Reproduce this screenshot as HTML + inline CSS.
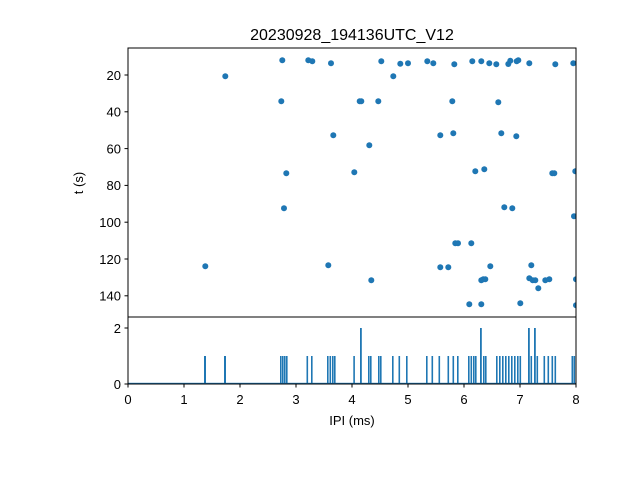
<!DOCTYPE html><html><head><style>body{margin:0;background:#fff}svg{display:block;font-family:"Liberation Sans","DejaVu Sans",sans-serif}</style></head><body>
<svg width="640" height="480" xmlns="http://www.w3.org/2000/svg">
<rect width="640" height="480" fill="#fff"/>
<text x="352" y="40" font-size="16" text-anchor="middle">20230928_194136UTC_V12</text>
<g fill="#1f77b4">
<script>/*none*/</script>
</g>
<g id="dots" fill="#1f77b4">
<circle cx="282.3" cy="60.3" r="3"/><circle cx="308.3" cy="60.3" r="3"/><circle cx="312.3" cy="61.3" r="3"/><circle cx="331" cy="63.3" r="3"/><circle cx="225.3" cy="76.3" r="3"/><circle cx="281.3" cy="101.3" r="3"/><circle cx="359.7" cy="101.3" r="3"/><circle cx="333.3" cy="135.3" r="3"/><circle cx="286.3" cy="173.3" r="3"/><circle cx="354.3" cy="172.3" r="3"/><circle cx="284" cy="208.3" r="3"/><circle cx="205.3" cy="266.3" r="3"/><circle cx="328.3" cy="265.3" r="3"/>
<circle cx="381.3" cy="61.3" r="3"/><circle cx="400.3" cy="63.7" r="3"/><circle cx="408" cy="63.3" r="3"/><circle cx="427.3" cy="61.3" r="3"/><circle cx="433.3" cy="63.3" r="3"/><circle cx="454.3" cy="64.3" r="3"/><circle cx="472.3" cy="61.3" r="3"/><circle cx="481.3" cy="61.3" r="3"/><circle cx="489.3" cy="63.3" r="3"/><circle cx="496.3" cy="64.3" r="3"/><circle cx="508.3" cy="64" r="3"/><circle cx="510.3" cy="60.7" r="3"/><circle cx="516.7" cy="61.3" r="3"/><circle cx="518.3" cy="60.3" r="3"/><circle cx="529.3" cy="63.3" r="3"/><circle cx="555.3" cy="64.3" r="3"/><circle cx="573.3" cy="63.3" r="3"/><circle cx="393.3" cy="76.3" r="3"/>
<circle cx="361.3" cy="101.3" r="3"/><circle cx="378.3" cy="101.3" r="3"/><circle cx="452.3" cy="101.3" r="3"/><circle cx="498.3" cy="102.3" r="3"/>
<circle cx="440.3" cy="135.3" r="3"/><circle cx="453.3" cy="133.3" r="3"/><circle cx="501.3" cy="133.3" r="3"/><circle cx="516.3" cy="136.3" r="3"/><circle cx="369.3" cy="145.3" r="3"/>
<circle cx="475.3" cy="171.3" r="3"/><circle cx="484.3" cy="169.3" r="3"/><circle cx="552.3" cy="173.3" r="3"/><circle cx="554.3" cy="173.3" r="3"/><circle cx="575.3" cy="171.3" r="3"/>
<circle cx="504.3" cy="207.3" r="3"/><circle cx="512.3" cy="208.3" r="3"/><circle cx="574" cy="216.3" r="3"/>
<circle cx="455.3" cy="243.3" r="3"/><circle cx="458" cy="243.3" r="3"/><circle cx="471.3" cy="243.3" r="3"/>
<circle cx="440.3" cy="267.3" r="3"/><circle cx="448.3" cy="267.3" r="3"/><circle cx="490.3" cy="266.3" r="3"/><circle cx="531.3" cy="265.3" r="3"/>
<circle cx="371.3" cy="280.3" r="3"/><circle cx="481.3" cy="280.3" r="3"/><circle cx="483.3" cy="279.3" r="3"/><circle cx="485.3" cy="279.3" r="3"/><circle cx="529.3" cy="278.3" r="3"/><circle cx="532.7" cy="280.3" r="3"/><circle cx="535.3" cy="280.3" r="3"/><circle cx="538.3" cy="288.3" r="3"/><circle cx="545.3" cy="280.3" r="3"/><circle cx="549.3" cy="279.3" r="3"/><circle cx="576" cy="279.3" r="3"/>
<circle cx="469.3" cy="304.3" r="3"/><circle cx="481.3" cy="304.3" r="3"/><circle cx="520.3" cy="303.3" r="3"/><circle cx="576" cy="305.3" r="3"/>
</g>
<rect x="576.5" y="40" width="10" height="280" fill="#fff"/>
<rect x="128" y="48" width="448" height="269" fill="none" stroke="#000" stroke-width="1"/>
<g stroke="#000" stroke-width="1">
<line x1="124.5" x2="128" y1="75" y2="75"/><line x1="124.5" x2="128" y1="111.8" y2="111.8"/><line x1="124.5" x2="128" y1="148.6" y2="148.6"/><line x1="124.5" x2="128" y1="185.4" y2="185.4"/><line x1="124.5" x2="128" y1="222.2" y2="222.2"/><line x1="124.5" x2="128" y1="259" y2="259"/><line x1="124.5" x2="128" y1="295.8" y2="295.8"/>
</g>
<g font-size="13" text-anchor="end">
<text x="121" y="80">20</text><text x="121" y="116.5">40</text><text x="121" y="153.5">60</text><text x="121" y="190">80</text><text x="121" y="227">100</text><text x="121" y="264">120</text><text x="121" y="300.5">140</text>
</g>
<text transform="translate(83,183) rotate(-90)" font-size="13" text-anchor="middle">t (s)</text>
<g fill="#1f77b4">
<rect x="204" y="356" width="2" height="28"/><rect x="224" y="356" width="2" height="28"/>
<rect x="280" y="356" width="1.6" height="28"/><rect x="282" y="356" width="1.6" height="28"/><rect x="284" y="356" width="1.6" height="28"/><rect x="286" y="356" width="1.6" height="28"/>
<rect x="306.5" y="356" width="1.6" height="28"/><rect x="311" y="356" width="1.6" height="28"/>
<rect x="327" y="356" width="1.6" height="28"/><rect x="329.5" y="356" width="1.6" height="28"/><rect x="332" y="356" width="1.6" height="28"/><rect x="334" y="356" width="1.6" height="28"/>
<rect x="353.3" y="356" width="1.6" height="28"/><rect x="360" y="328" width="1.8" height="56"/>
<rect x="368" y="356" width="1.6" height="28"/><rect x="370" y="356" width="1.6" height="28"/>
<rect x="378" y="356" width="1.6" height="28"/><rect x="380" y="356" width="1.6" height="28"/>
<rect x="392" y="356" width="1.6" height="28"/><rect x="398.5" y="356" width="1.6" height="28"/><rect x="406" y="356" width="1.6" height="28"/>
<rect x="426" y="356" width="1.6" height="28"/><rect x="431.5" y="356" width="1.6" height="28"/><rect x="438.5" y="356" width="1.6" height="28"/>
<rect x="447.5" y="356" width="1.6" height="28"/><rect x="452.5" y="356" width="1.6" height="28"/><rect x="457" y="356" width="1.6" height="28"/>
<rect x="468" y="356" width="1.6" height="28"/><rect x="470.5" y="356" width="1.6" height="28"/><rect x="473" y="356" width="1.6" height="28"/><rect x="475" y="356" width="1.6" height="28"/>
<rect x="480" y="328" width="1.8" height="56"/><rect x="483" y="356" width="1.6" height="28"/><rect x="485" y="356" width="1.6" height="28"/>
<rect x="496" y="356" width="1.6" height="28"/><rect x="499" y="356" width="1.6" height="28"/><rect x="502" y="356" width="1.6" height="28"/><rect x="505" y="356" width="1.6" height="28"/><rect x="508" y="356" width="1.6" height="28"/><rect x="511" y="356" width="1.6" height="28"/><rect x="514" y="356" width="1.6" height="28"/><rect x="517" y="356" width="1.6" height="28"/><rect x="519.5" y="356" width="1.6" height="28"/>
<rect x="528" y="328" width="1.8" height="56"/><rect x="530.5" y="356" width="1.6" height="28"/><rect x="534" y="328" width="1.8" height="56"/><rect x="536.5" y="356" width="1.6" height="28"/>
<rect x="543.5" y="356" width="1.6" height="28"/><rect x="547.5" y="356" width="1.6" height="28"/><rect x="551.5" y="356" width="1.6" height="28"/><rect x="554.5" y="356" width="1.6" height="28"/>
<rect x="571.5" y="356" width="1.6" height="28"/><rect x="573.5" y="356" width="1.6" height="28"/>
<rect x="128" y="382.8" width="448" height="1.5"/>
</g>
<rect x="128" y="317" width="448" height="67" fill="none" stroke="#000" stroke-width="1"/>
<g stroke="#000" stroke-width="1">
<line x1="124.5" x2="128" y1="384" y2="384"/><line x1="124.5" x2="128" y1="328" y2="328"/>
<line x1="128" x2="128" y1="384" y2="387.5"/><line x1="184" x2="184" y1="384" y2="387.5"/><line x1="240" x2="240" y1="384" y2="387.5"/><line x1="296" x2="296" y1="384" y2="387.5"/><line x1="352" x2="352" y1="384" y2="387.5"/><line x1="408" x2="408" y1="384" y2="387.5"/><line x1="464" x2="464" y1="384" y2="387.5"/><line x1="520" x2="520" y1="384" y2="387.5"/><line x1="576" x2="576" y1="384" y2="387.5"/>
</g>
<g font-size="13" text-anchor="end"><text x="121" y="389">0</text><text x="121" y="333">2</text></g>
<g font-size="13" text-anchor="middle">
<text x="128" y="404">0</text><text x="184" y="404">1</text><text x="240" y="404">2</text><text x="296" y="404">3</text><text x="352" y="404">4</text><text x="408" y="404">5</text><text x="464" y="404">6</text><text x="520" y="404">7</text><text x="576" y="404">8</text>
<text x="352" y="425">IPI (ms)</text>
</g>
</svg>
</body></html>
